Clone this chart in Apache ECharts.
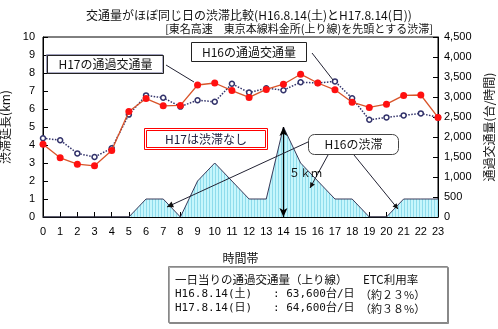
<!DOCTYPE html>
<html><head><meta charset="utf-8">
<script src="https://cdn.jsdelivr.net/npm/echarts@6/dist/echarts.min.js"></script>
<style>html,body{margin:0;padding:0;background:#fff}#c{width:498px;height:329px}</style>
</head><body><div id="c"></div>
<script>
// ---- data ----
const hours = ['0','1','2','3','4','5','6','7','8','9','10','11','12','13','14','15','16','17','18','19','20','21','22','23'];
const h17Traffic = [1820,1480,1320,1280,1660,2640,2960,2780,2790,3300,3350,3160,2990,3190,3320,3570,3350,3180,2870,2740,2820,3040,3050,2490];
const h16Traffic = [1970,1920,1590,1500,1720,2560,3040,2980,2760,2920,2880,3330,3110,3220,3170,3370,3350,3390,2970,2430,2490,2540,2590,2490];
const h16Jam = [0,0,0,0,0,0,1,1,0,2,3,2,1,1,5,3,2,1,1,0,0,1,1,1];
const jamMax = 10, jamStep = 1;
const trafficMax = 4500, trafficStep = 500;

const JP = "'Noto Sans CJK JP', sans-serif";
const NUM = "'Liberation Sans', Arial, sans-serif";
const MONO = "'DejaVu Sans Mono','Noto Sans CJK JP',monospace";

// stripe pattern for the congestion area
const pat = document.createElement('canvas');
pat.width = 3; pat.height = 4;
const pc = pat.getContext('2d');
pc.fillStyle = '#c6f6fc'; pc.fillRect(0,0,3,4);
pc.fillStyle = '#8fdcec'; pc.fillRect(2,0,1,4);

function arrowHead(x1,y1,x2,y2,size){
  const a = Math.atan2(y2-y1,x2-x1), s = size||6, w = 0.45;
  return {type:'polygon', z:100, silent:true,
    shape:{points:[[x2,y2],[x2-s*Math.cos(a-w),y2-s*Math.sin(a-w)],[x2-s*Math.cos(a+w),y2-s*Math.sin(a+w)]]},
    style:{fill:'#111'}};
}
function line(x1,y1,x2,y2){
  return {type:'line', z:99, silent:true, shape:{x1,y1,x2,y2}, style:{stroke:'#223',lineWidth:1}};
}
function txt(x,y,t,opt){
  return Object.assign({type:'text', z:102, silent:true, x, y,
    style:Object.assign({text:t, font:'11px '+JP, fill:'#111', verticalAlign:'middle'}, opt||{})});
}

const chart = echarts.init(document.getElementById('c'), null, {renderer:'canvas'});
chart.setOption({
  animation:false,
  backgroundColor:'#fff',
  title:[
    {text:'交通量がほぼ同じ日の渋滞比較(H16.8.14(土)とH17.8.14(日))', left:'center', top:4,
     textStyle:{fontFamily:JP, fontSize:12, fontWeight:'normal', color:'#111'}},
    {text:'[東名高速　東京本線料金所(上り線)を先頭とする渋滞]', right:60, top:18,
     textStyle:{fontFamily:JP, fontSize:11, fontWeight:'normal', color:'#111'}}
  ],
  grid:{left:43, right:60, top:37, bottom:112, outerBoundsMode:'none', containLabel:false,
    show:true, borderColor:'#000', borderWidth:1, backgroundColor:'transparent'},
  xAxis:{type:'category', data:hours, boundaryGap:false,
    name:'時間帯', nameLocation:'middle', nameGap:35,
    nameTextStyle:{fontFamily:JP, fontSize:12, color:'#111'},
    axisLine:{lineStyle:{color:'#000'}},
    axisTick:{inside:true, length:5, interval:0, lineStyle:{color:'#000'}},
    axisLabel:{interval:0, margin:9, fontFamily:NUM, fontSize:11, color:'#000'},
    splitLine:{show:false}},
  yAxis:[
    {type:'value', min:0, max:jamMax, interval:jamStep,
     name:'渋滞延長(km)', nameLocation:'middle', nameGap:25, nameRotate:90,
     nameTextStyle:{fontFamily:JP, fontSize:12, color:'#111'},
     axisLine:{show:true, lineStyle:{color:'#000'}},
     axisTick:{show:true, inside:true, length:5, lineStyle:{color:'#000'}},
     axisLabel:{margin:8, fontFamily:NUM, fontSize:11, color:'#000'},
     splitLine:{show:false}},
    {type:'value', min:0, max:trafficMax, interval:trafficStep, position:'right',
     name:'通過交通量(台/時間)', nameLocation:'middle', nameGap:45, nameRotate:90,
     nameTextStyle:{fontFamily:JP, fontSize:12, color:'#111'},
     axisLine:{show:true, lineStyle:{color:'#000'}},
     axisTick:{show:true, inside:true, length:5, lineStyle:{color:'#000'}},
     axisLabel:{margin:6, fontFamily:NUM, fontSize:11, color:'#000',
       formatter:v=>v.toLocaleString('en-US')},
     splitLine:{show:false}}
  ],
  series:[
    {name:'H16の渋滞', type:'line', yAxisIndex:0, data:h16Jam, symbol:'none', z:1,
     lineStyle:{color:'#3a3a5a', width:1},
     areaStyle:{color:{image:pat, repeat:'repeat'}, opacity:1},
     markLine:{silent:true, symbol:['arrow','arrow'], symbolSize:[6,9], precision:0,
       label:{show:false},
       lineStyle:{color:'#000', width:1.2, type:'solid'},
       data:[[{coord:['14',0]},{coord:['14',5]}]]}},
    {name:'H16の通過交通量', type:'line', yAxisIndex:1, data:h16Traffic, z:3,
     symbol:'circle', symbolSize:5,
     lineStyle:{color:'#33336b', width:1.5, type:'dotted'},
     itemStyle:{color:'#fff', borderColor:'#33336b', borderWidth:1.5}},
    {name:'H17の通過交通量', type:'line', yAxisIndex:1, data:h17Traffic, z:4,
     symbol:'circle', symbolSize:7,
     lineStyle:{color:'#d9542a', width:1.3},
     itemStyle:{color:'#ff1010', borderColor:'#ff1010', borderWidth:0}}
  ],
  graphic:[
    line(166,65,194,82),
    line(312,53,333,80),
    line(308,142,167,207), arrowHead(308,142,167,207,7),
    line(328,155,310,188), arrowHead(328,155,310,188,6),
    line(354,155,398,209), arrowHead(354,155,398,209,6),
    {type:'rect', z:101, silent:true, shape:{x:47.5,y:55.5,width:116,height:18},
     style:{fill:'#fff', stroke:'#222', lineWidth:1, shadowColor:'rgba(120,120,160,0.6)', shadowOffsetX:-1, shadowOffsetY:-1}},
    txt(105.5,64.5,'H17の通過交通量',{font:'12px '+JP, align:'center'}),
    {type:'rect', z:101, silent:true, shape:{x:191.5,y:42.5,width:115,height:19},
     style:{fill:'#fff', stroke:'#222', lineWidth:1}},
    txt(249,52,'H16の通過交通量',{font:'12px '+JP, align:'center'}),
    {type:'rect', z:101, silent:true, shape:{x:144.5,y:128.5,width:123,height:21},
     style:{fill:'#fff', stroke:'#ff0000', lineWidth:1}},
    {type:'rect', z:101, silent:true, shape:{x:146.5,y:130.5,width:119,height:17},
     style:{fill:'#fff', stroke:'#ff0000', lineWidth:1}},
    txt(206,139.5,'H17は渋滞なし',{font:'12px '+JP, align:'center', fill:'#202040'}),
    {type:'rect', z:101, silent:true, shape:{x:308.5,y:134.5,width:90,height:20,r:6},
     style:{fill:'#fff', stroke:'#444', lineWidth:1}},
    txt(353.5,144.5,'H16の渋滞',{font:'12px '+JP, align:'center'}),
    txt(289,173,'５ｋｍ',{font:'11px '+JP}),
    {type:'rect', z:101, silent:true, shape:{x:168.5,y:266.5,width:279,height:56},
     style:{fill:'#fff', stroke:'#888', lineWidth:1, shadowColor:'rgba(0,0,0,0.35)', shadowOffsetX:1, shadowOffsetY:1}},
    txt(175,280,'一日当りの通過交通量（上り線）',{font:'11.5px '+JP}),
    txt(363,280,'ETC利用率',{font:'11.5px '+JP}),
    txt(175,294.5,'H16.8.14(土)',{font:'11px '+MONO}),
    txt(273,294.5,': 63,600台/日',{font:'11px '+MONO}),
    txt(360,294.5,'（約２３%）',{font:'11px '+JP}),
    txt(175,308.5,'H17.8.14(日)',{font:'11px '+MONO}),
    txt(273,308.5,': 64,600台/日',{font:'11px '+MONO}),
    txt(360,308.5,'（約３８%）',{font:'11px '+JP})
  ]
});
</script></body></html>
